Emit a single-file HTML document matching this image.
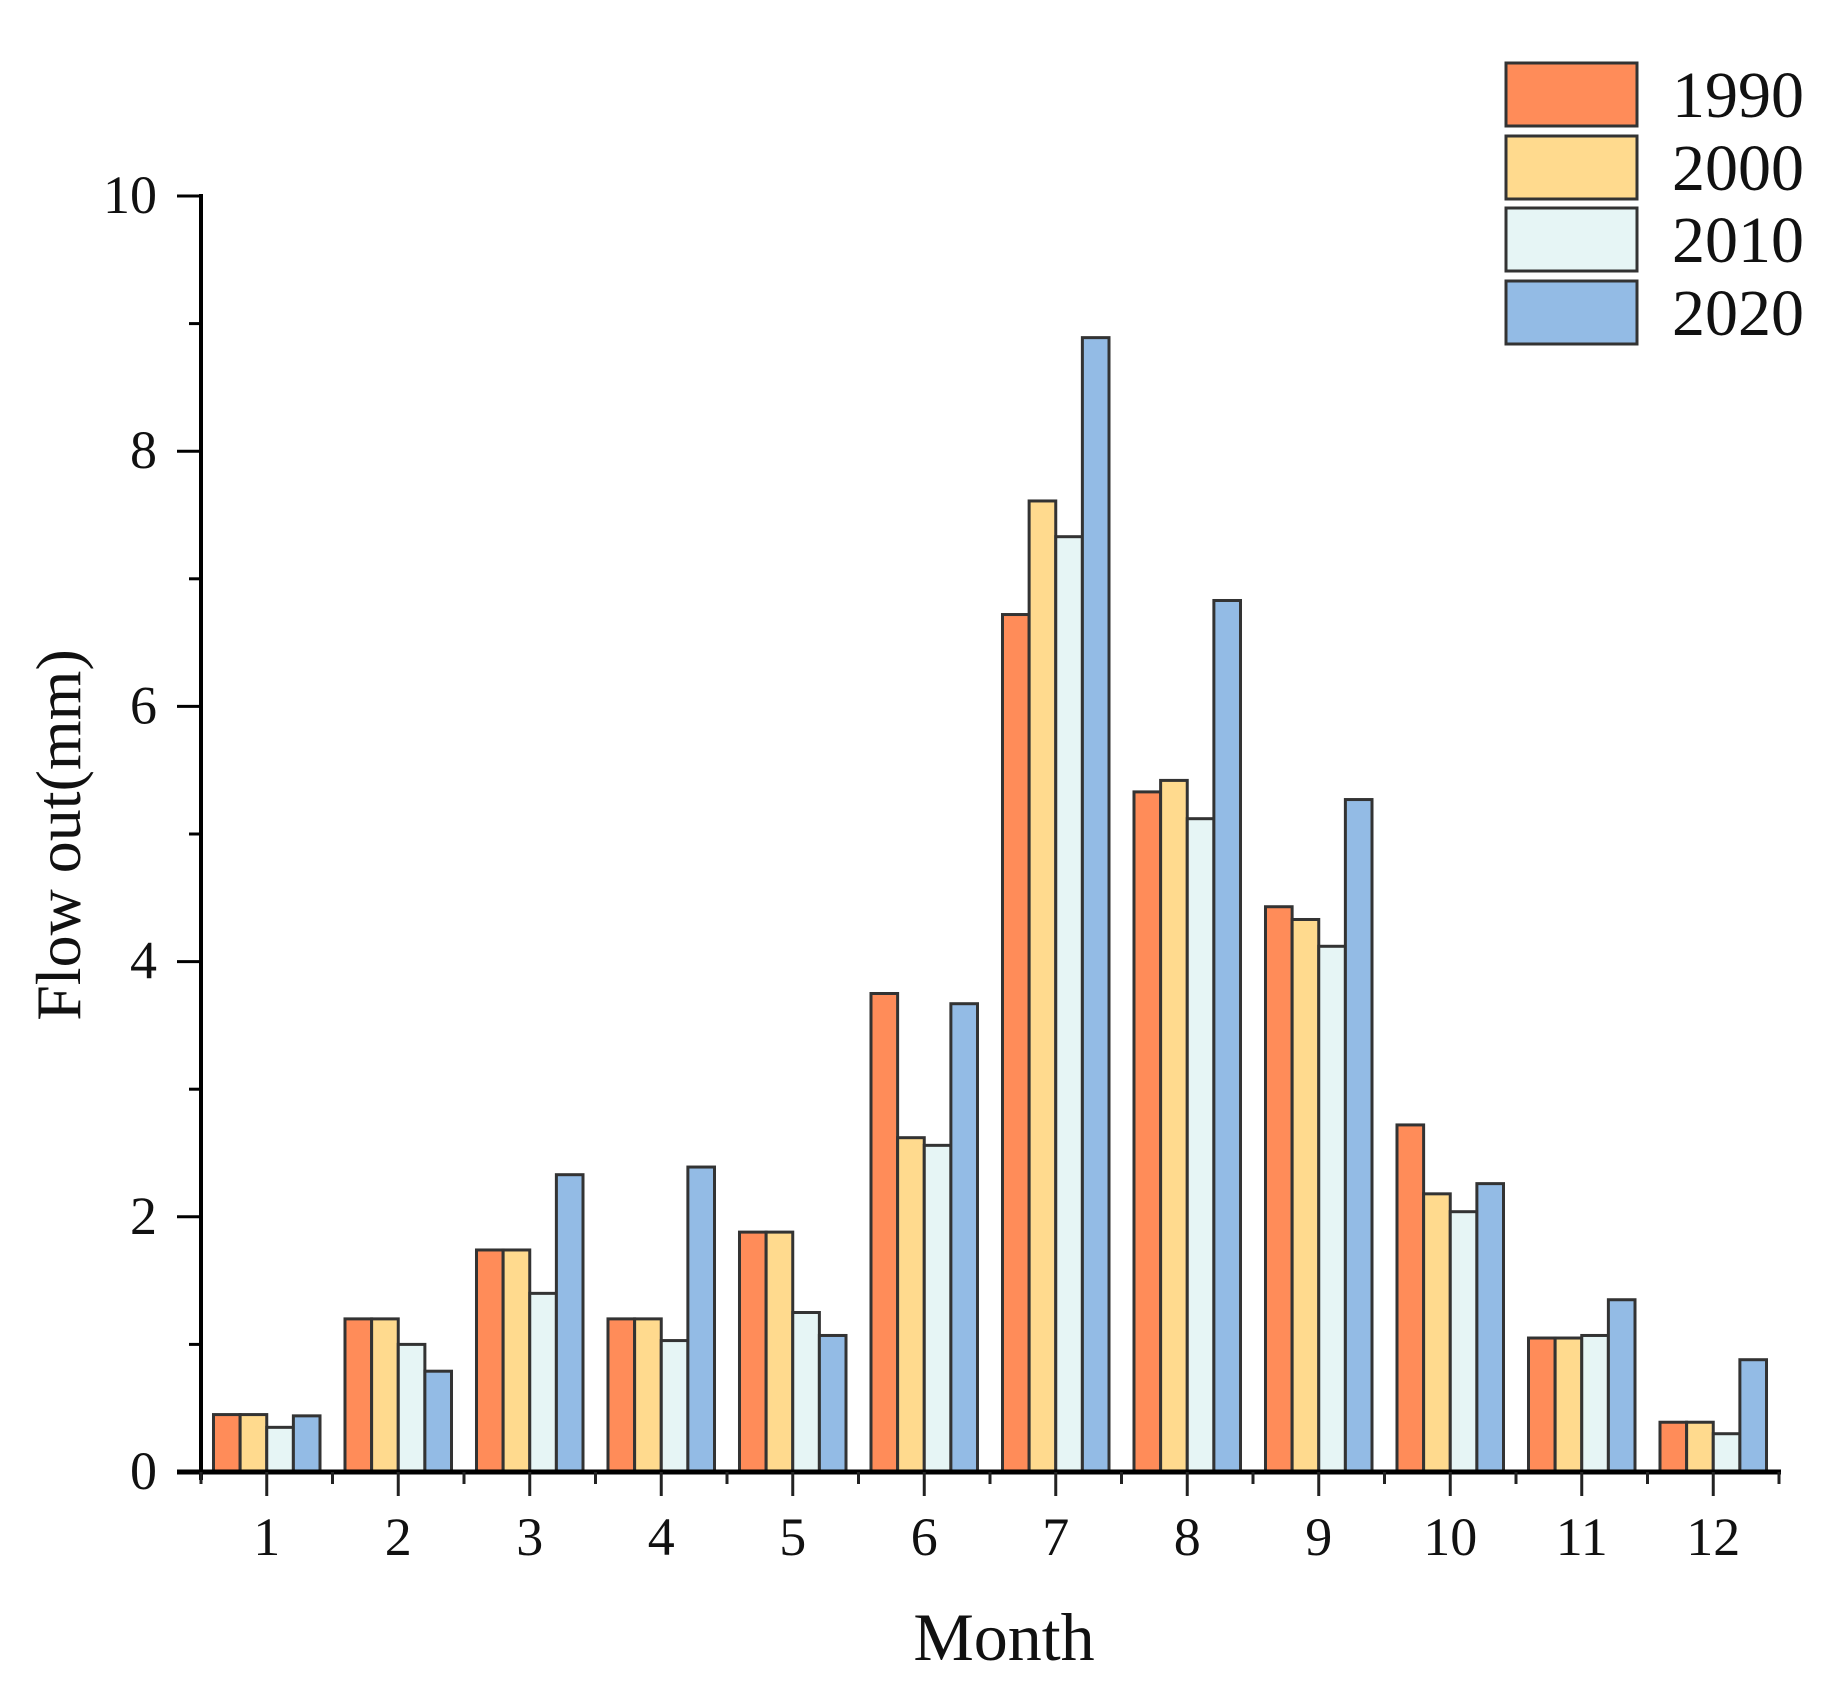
<!DOCTYPE html>
<html><head><meta charset="utf-8"><style>
html,body{margin:0;padding:0;background:#fff;}
svg{display:block;font-family:"Liberation Serif",serif;}
</style></head><body>
<svg id="chart" width="1830" height="1683" viewBox="0 0 1830 1683" xmlns="http://www.w3.org/2000/svg">
<g id="bars"></g>
<g id="axes"></g>
<g id="legend"></g>
<text x="1004" y="1660" font-size="68" text-anchor="middle" fill="#111">Month</text>
<text transform="translate(80,835) rotate(-90)" font-size="64" text-anchor="middle" fill="#111">Flow out(mm)</text>
</svg>
<script>
const months = ["1","2","3","4","5","6","7","8","9","10","11","12"];
const seriesNames = ["1990","2000","2010","2020"];
const s1990 = [0.45,1.2,1.74,1.2,1.88,3.75,6.72,5.33,4.43,2.72,1.05,0.39];
const s2000 = [0.45,1.2,1.74,1.2,1.88,2.62,7.61,5.42,4.33,2.18,1.05,0.39];
const s2010 = [0.35,1.0,1.4,1.03,1.25,2.56,7.33,5.12,4.12,2.04,1.07,0.3];
const s2020 = [0.44,0.79,2.33,2.39,1.07,3.67,8.89,6.83,5.27,2.26,1.35,0.88];
const yTicks = [0,2,4,6,8,10];
const yMinor = [1,3,5,7,9];

const NS="http://www.w3.org/2000/svg";
const colors=["#FF8C59","#FFDA8E","#E6F5F5","#93BBE5"];
const series=[s1990,s2000,s2010,s2020];
const x0=201, x1=1779, y0=1472, y10=196, ymax=10;
const band=(x1-x0)/months.length;
const y=v=>y0-(v/ymax)*(y0-y10);
const xc=i=>x0+band*(i+0.5);
const barW=band*0.81/4;
function mk(tag,attrs,parent){const e=document.createElementNS(NS,tag);for(const k in attrs)e.setAttribute(k,attrs[k]);parent.appendChild(e);return e;}
const gb=document.getElementById('bars');
months.forEach((m,i)=>{
  series.forEach((s,j)=>{
    const bx=xc(i)-2*barW+j*barW;
    const r=mk('rect',{x:bx,y:y(s[i]),width:barW,height:y0-y(s[i]),fill:colors[j],stroke:"#333","stroke-width":3},gb);
    
    
  });
});
const ga=document.getElementById('axes');
let l=mk('line',{x1:x0,y1:y0+8,x2:x0,y2:y10-2,stroke:"#000","stroke-width":4},ga);

l=mk('line',{x1:177,y1:y0,x2:x1+2,y2:y0,stroke:"#000","stroke-width":5},ga);

yTicks.forEach(v=>{
  const t=mk('line',{x1:x0-24,y1:y(v),x2:x0,y2:y(v),stroke:"#000","stroke-width":3},ga);
  
  const tx=mk('text',{x:157,y:y(v)+17,"font-size":54,"text-anchor":"end",fill:"#111"},ga);
  tx.textContent=v;
  
});
yMinor.forEach(v=>{
  const t=mk('line',{x1:x0-12,y1:y(v),x2:x0,y2:y(v),stroke:"#000","stroke-width":3},ga);
  
});
months.forEach((m,i)=>{
  const t=mk('line',{x1:xc(i),y1:y0,x2:xc(i),y2:y0+24,stroke:"#222","stroke-width":3},ga);
  
  const tx=mk('text',{x:xc(i),y:1555,"font-size":54,"text-anchor":"middle",fill:"#111"},ga);
  tx.textContent=m;
  
});
for(let i=0;i<=months.length;i++){
  const t=mk('line',{x1:x0+band*i,y1:y0,x2:x0+band*i,y2:y0+12,stroke:"#222","stroke-width":3},ga);
  
}
const gl=document.getElementById('legend');
const ly=[63,136,208,281];
seriesNames.forEach((n,j)=>{
  const r=mk('rect',{x:1506,y:ly[j],width:131,height:63,fill:colors[j],stroke:"#333","stroke-width":3},gl);
  
  const t=mk('text',{x:1672,y:ly[j]+54,"font-size":66,fill:"#111"},gl);
  t.textContent=n;
  
});
</script>
</body></html>
